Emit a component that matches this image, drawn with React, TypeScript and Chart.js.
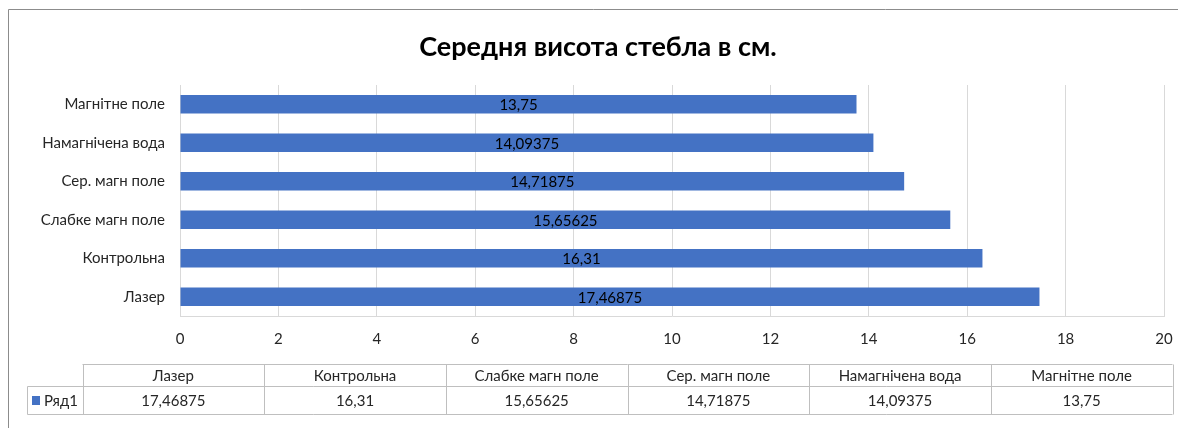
import React, { useEffect, useRef } from "react";
import { Chart, registerables } from "chart.js";

Chart.register(...registerables);

const chartTitle = "Середня висота стебла в см.";
const categories = [
  "Лазер",
  "Контрольна",
  "Слабке магн поле",
  "Сер. магн поле",
  "Намагнічена вода",
  "Магнітне поле",
];
const seriesName = "Ряд1";
const seriesValues = [17.46875, 16.31, 15.65625, 14.71875, 14.09375, 13.75];
const axisMin = 0;
const axisMax = 20;
const axisStep = 2;

const W = 1178;
const H = 428;
const FONT = "Lato, 'Open Sans', sans-serif";
const TEXT = "#262626";
const BAR = "#4472C4";
const GRID = "#d9d9d9";
const TABLE_LINE = "#bfbfbf";
const FS = 15;

const fmt = (v: number) => String(v).replace(".", ",");

const framePlugin = {
  id: "frame",
  beforeDraw(chart: any) {
    const ctx = chart.ctx;
    ctx.save();
    ctx.fillStyle = "#ffffff";
    ctx.fillRect(0, 0, W, H);
    ctx.strokeStyle = "#8c8c8c";
    ctx.lineWidth = 1;
    ctx.beginPath();
    ctx.moveTo(8.5, H);
    ctx.lineTo(8.5, 9.5);
    ctx.lineTo(W, 9.5);
    ctx.stroke();
    ctx.restore();
  },
};

const titlePlugin = {
  id: "customTitle",
  afterDraw(chart: any) {
    const ctx = chart.ctx;
    ctx.save();
    ctx.font = `bold 27px ${FONT}`;
    ctx.fillStyle = "#000000";
    ctx.textAlign = "center";
    ctx.textBaseline = "middle";
    ctx.fillText(chartTitle, 598, 47);
    ctx.restore();
  },
};

const valueLabelPlugin = {
  id: "valueLabels",
  afterDatasetsDraw(chart: any) {
    const ctx = chart.ctx;
    const meta = chart.getDatasetMeta(0);
    ctx.save();
    ctx.font = `${FS}px ${FONT}`;
    ctx.fillStyle = "#000000";
    ctx.textAlign = "center";
    ctx.textBaseline = "middle";
    meta.data.forEach((el: any, i: number) => {
      const cx = (el.x + el.base) / 2;
      ctx.fillText(fmt(seriesValues[i]), cx, el.y + 1);
    });
    ctx.restore();
  },
};

const tablePlugin = {
  id: "dataTable",
  afterDraw(chart: any) {
    const ctx = chart.ctx;
    const left = 27.5;
    const colStart = 82.5;
    const right = 1172.5;
    const top = 364.5;
    const mid = 386.5;
    const bottom = 414.5;
    const n = categories.length;
    const colW = (right - colStart) / n;
    ctx.save();
    ctx.strokeStyle = TABLE_LINE;
    ctx.lineWidth = 1;
    ctx.beginPath();
    ctx.moveTo(colStart, top);
    ctx.lineTo(right, top);
    ctx.moveTo(left, mid);
    ctx.lineTo(right, mid);
    ctx.moveTo(left, bottom);
    ctx.lineTo(right, bottom);
    ctx.moveTo(left, mid);
    ctx.lineTo(left, bottom);
    for (let i = 0; i <= n; i++) {
      const x = Math.round(colStart + i * colW) + 0.5;
      ctx.moveTo(x, top);
      ctx.lineTo(x, bottom);
    }
    ctx.stroke();

    ctx.font = `${FS}px ${FONT}`;
    ctx.fillStyle = TEXT;
    ctx.textAlign = "center";
    ctx.textBaseline = "middle";
    categories.forEach((c, i) => {
      const cx = colStart + (i + 0.5) * colW;
      ctx.fillText(c, cx, (top + mid) / 2 + 1);
      ctx.fillText(fmt(seriesValues[i]), cx, (mid + bottom) / 2 + 1);
    });

    ctx.fillStyle = BAR;
    ctx.fillRect(32, 396, 8, 9);
    ctx.fillStyle = TEXT;
    ctx.textAlign = "left";
    ctx.fillText(seriesName, 44, (mid + bottom) / 2 + 1);
    ctx.restore();
  },
};

export default function App() {
  const canvasRef = useRef<HTMLCanvasElement | null>(null);

  useEffect(() => {
    if (!canvasRef.current) return;
    const chart = new Chart(canvasRef.current, {
      type: "bar",
      data: {
        labels: categories,
        datasets: [
          {
            label: seriesName,
            data: seriesValues,
            backgroundColor: BAR,
            borderWidth: 0,
            categoryPercentage: 1,
            barPercentage: 0.48,
          },
        ],
      },
      options: {
        indexAxis: "y",
        responsive: false,
        animation: false,
        devicePixelRatio: 1,
        layout: { padding: { left: 10, right: 14, top: 85, bottom: 72 } },
        plugins: {
          legend: { display: false },
          title: { display: false },
          tooltip: { enabled: false },
        },
        scales: {
          x: {
            min: axisMin,
            max: axisMax,
            ticks: {
              stepSize: axisStep,
              color: TEXT,
              font: { family: FONT, size: FS },
              padding: 14,
            },
            grid: { color: GRID, drawTicks: false },
            border: { display: true, color: GRID },
            afterFit: (s: any) => {
              s.height = 40;
              s.paddingLeft = 0;
              s.paddingRight = 0;
            },
          },
          y: {
            reverse: true,
            ticks: {
              color: TEXT,
              font: { family: FONT, size: FS },
              padding: 15,
            },
            grid: { display: false, drawTicks: false },
            border: { display: true, color: GRID },
            afterFit: (s: any) => {
              s.width = 170;
              s.paddingTop = 0;
              s.paddingBottom = 0;
            },
          },
        },
      },
      plugins: [framePlugin, valueLabelPlugin, titlePlugin, tablePlugin],
    } as any);
    return () => chart.destroy();
  }, []);

  return (
    <div style={{ position: "fixed", left: 0, top: 0, width: W, height: H, overflow: "hidden" }}>
      <canvas ref={canvasRef} width={W} height={H} style={{ display: "block", width: W, height: H }} />
    </div>
  );
}
